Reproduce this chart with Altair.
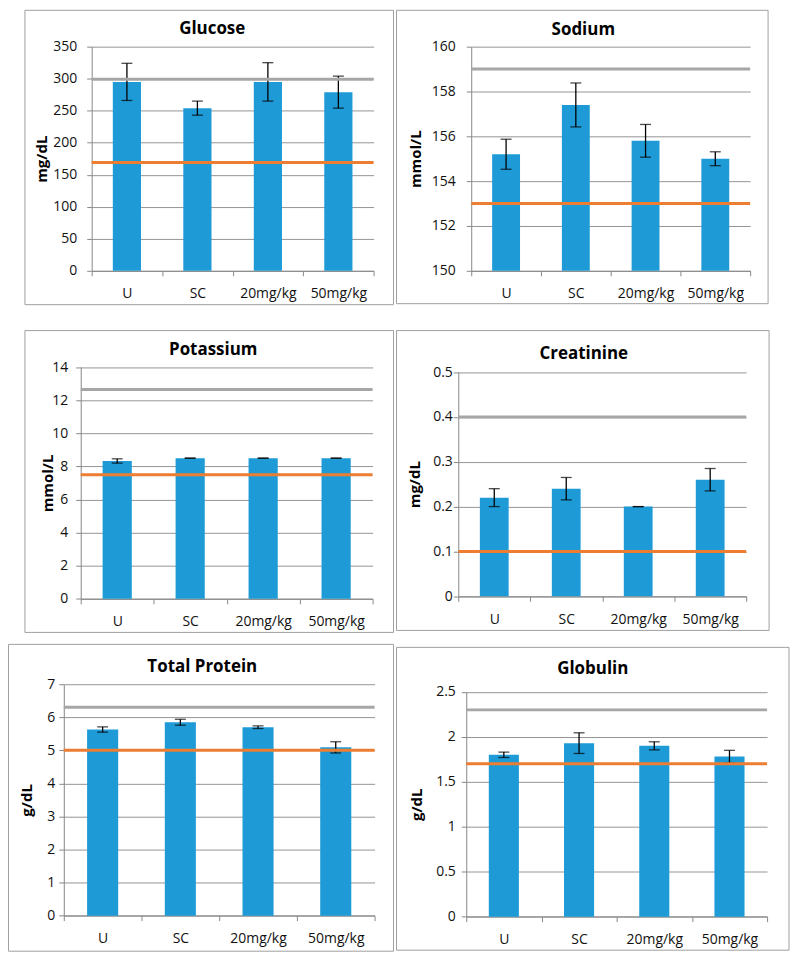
import altair as alt
import pandas as pd

# ---------------- data ----------------
groups = ["U", "SC", "20mg/kg", "50mg/kg"]

titles = ["Glucose", "Sodium", "Potassium", "Creatinine", "Total Protein", "Globulin"]
units = ["mg/dL", "mmol/L", "mmol/L", "mg/dL", "g/dL", "g/dL"]

glucose_mean = [295, 254, 295, 279]
glucose_err = [29, 11, 30, 25]
sodium_mean = [155.2, 157.4, 155.8, 155.0]
sodium_err = [0.67, 0.98, 0.73, 0.31]
potassium_mean = [8.33, 8.5, 8.5, 8.5]
potassium_err = [0.13, 0.01, 0.01, 0.01]
creatinine_mean = [0.22, 0.24, 0.20, 0.26]
creatinine_err = [0.02, 0.025, 0.0, 0.025]
protein_mean = [5.63, 5.85, 5.70, 5.09]
protein_err = [0.08, 0.09, 0.04, 0.17]
globulin_mean = [1.80, 1.93, 1.90, 1.78]
globulin_err = [0.03, 0.115, 0.045, 0.07]

ref_upper = [299, 159, 12.65, 0.4, 6.3, 2.3]
ref_lower = [169, 153, 7.5, 0.1, 5.0, 1.7]

glucose_ticks = [0, 50, 100, 150, 200, 250, 300, 350]
sodium_ticks = [150, 152, 154, 156, 158, 160]
potassium_ticks = [0, 2, 4, 6, 8, 10, 12, 14]
creatinine_ticks = [0, 0.1, 0.2, 0.3, 0.4, 0.5]
protein_ticks = [0, 1, 2, 3, 4, 5, 6, 7]
globulin_ticks = [0, 0.5, 1, 1.5, 2, 2.5]

means = [glucose_mean, sodium_mean, potassium_mean, creatinine_mean, protein_mean, globulin_mean]
errs = [glucose_err, sodium_err, potassium_err, creatinine_err, protein_err, globulin_err]
ticks = [glucose_ticks, sodium_ticks, potassium_ticks, creatinine_ticks, protein_ticks, globulin_ticks]

# ---------------- layout & style ----------------
VIEW_W, VIEW_H = 786, 946
FONT = "Open Sans"
BLUE = "#1E9BD7"
GRAY_REF = "#A6A6A6"
ORANGE = "#ED7D31"
GRID = "#959595"
FRAME = "#A0A0A0"
TXT = "#111111"

LAYOUT = [
    dict(x0=84, x1=367, yt=37, yb=262, fx=(17, 387), fy=(0.5, 296), tx=205, ty=24, tdx=-50, lpad=10),
    dict(x0=465, x1=745, yt=37, yb=262, fx=(390, 763), fy=(0.5, 295), tx=577.5, ty=25, tdx=-56, lpad=11),
    dict(x0=73, x1=366, yt=358.7, yb=591.3, fx=(17, 387), fy=(322, 625), tx=206, ty=347, tdx=-33, lpad=8),
    dict(x0=452, x1=741, yt=363.7, yb=588.7, fx=(390, 764), fy=(322, 623), tx=578, ty=351, tdx=-44, lpad=1),
    dict(x0=56, x1=368, yt=677, yb=909.3, fx=(0.5, 387), fy=(637, 945), tx=195, ty=665, tdx=-37, lpad=4),
    dict(x0=460, x1=762, yt=684.7, yb=910.3, fx=(390, 784), fy=(640, 944), tx=587, ty=667, tdx=-50, lpad=6),
]


def panel(i):
    L = LAYOUT[i]
    t = ticks[i]
    df = pd.DataFrame({
        "group": groups,
        "mean": means[i],
        "lo": [m - e for m, e in zip(means[i], errs[i])],
        "hi": [m + e for m, e in zip(means[i], errs[i])],
        "base": [t[0]] * len(groups),
    })
    xs = alt.Scale(domain=groups, range=[L["x0"], L["x1"]], paddingInner=0, paddingOuter=0)
    ys = alt.Scale(domain=[t[0], t[-1]], range=[L["yb"], L["yt"]], nice=False, zero=False)

    x_axis = alt.Axis(
        orient="bottom", offset=L["yb"] - VIEW_H, title=None, labelAngle=0,
        tickBand="extent", ticks=True, tickSize=5, tickColor="#888888",
        domainColor="#888888", grid=False, labelFont=FONT, labelFontSize=14,
        labelColor=TXT, labelPadding=11,
    )
    y_axis = alt.Axis(
        orient="left", offset=-L["x0"], values=t, format="~r", grid=True,
        gridColor=GRID, gridWidth=1, domainColor="#888888", tickColor="#888888",
        tickSize=5, labelFont=FONT, labelFontSize=14, labelColor=TXT,
        labelPadding=L["lpad"], title=units[i], titleFont=FONT, titleFontSize=15,
        titleFontWeight="bold", titleColor="#000000", titleX=L["tdx"],
        titleY=(L["yt"] + L["yb"]) / 2, titleBaseline="middle", titleAlign="center",
        titleAngle=270,
    )

    xenc = alt.X("group:N", sort=groups, scale=xs, axis=x_axis)

    tdf = pd.DataFrame({"t": [titles[i]]})
    frame = alt.Chart(tdf).mark_rect(fillOpacity=0, stroke=FRAME, strokeWidth=1).encode(
        x=alt.value(L["fx"][0]), x2=alt.value(L["fx"][1]),
        y=alt.value(L["fy"][0]), y2=alt.value(L["fy"][1]),
    )
    title = alt.Chart(tdf).mark_text(
        font=FONT, fontSize=17, fontWeight="bold", color="#000000",
        align="center", baseline="alphabetic",
    ).encode(x=alt.value(L["tx"]), y=alt.value(L["ty"]), text="t:N")

    bars = alt.Chart(df).mark_bar(color=BLUE, width=alt.RelativeBandSize(0.4)).encode(
        x=xenc,
        y=alt.Y("mean:Q", scale=ys, axis=y_axis),
        y2="base:Q",
    )
    err = alt.Chart(df).mark_rule(color="#000000", strokeWidth=1.3).encode(
        x=xenc,
        y=alt.Y("lo:Q", scale=ys, axis=y_axis),
        y2="hi:Q",
    )
    cap_lo = alt.Chart(df).mark_tick(color="#000000", thickness=1.3, size=11, orient="horizontal").encode(
        x=xenc,
        y=alt.Y("lo:Q", scale=ys, axis=y_axis),
    )
    cap_hi = alt.Chart(df).mark_tick(color="#000000", thickness=1.3, size=11, orient="horizontal").encode(
        x=xenc,
        y=alt.Y("hi:Q", scale=ys, axis=y_axis),
    )
    ref_hi = alt.Chart(pd.DataFrame({"v": [ref_upper[i]]})).mark_rule(color=GRAY_REF, strokeWidth=3).encode(
        y=alt.Y("v:Q", scale=ys, axis=y_axis), x=alt.value(L["x0"]), x2=alt.value(L["x1"]),
    )
    ref_lo = alt.Chart(pd.DataFrame({"v": [ref_lower[i]]})).mark_rule(color=ORANGE, strokeWidth=3).encode(
        y=alt.Y("v:Q", scale=ys, axis=y_axis), x=alt.value(L["x0"]), x2=alt.value(L["x1"]),
    )
    return alt.layer(frame, title, bars, err, cap_lo, cap_hi, ref_hi, ref_lo)


chart = (
    alt.layer(*[panel(i) for i in range(6)])
    .resolve_scale(x="independent", y="independent")
    .properties(width=VIEW_W, height=VIEW_H, padding=0, background="white")
    .configure_view(strokeWidth=0)
)

chart.save("out.html", embed_options={"renderer": "svg", "actions": False})
